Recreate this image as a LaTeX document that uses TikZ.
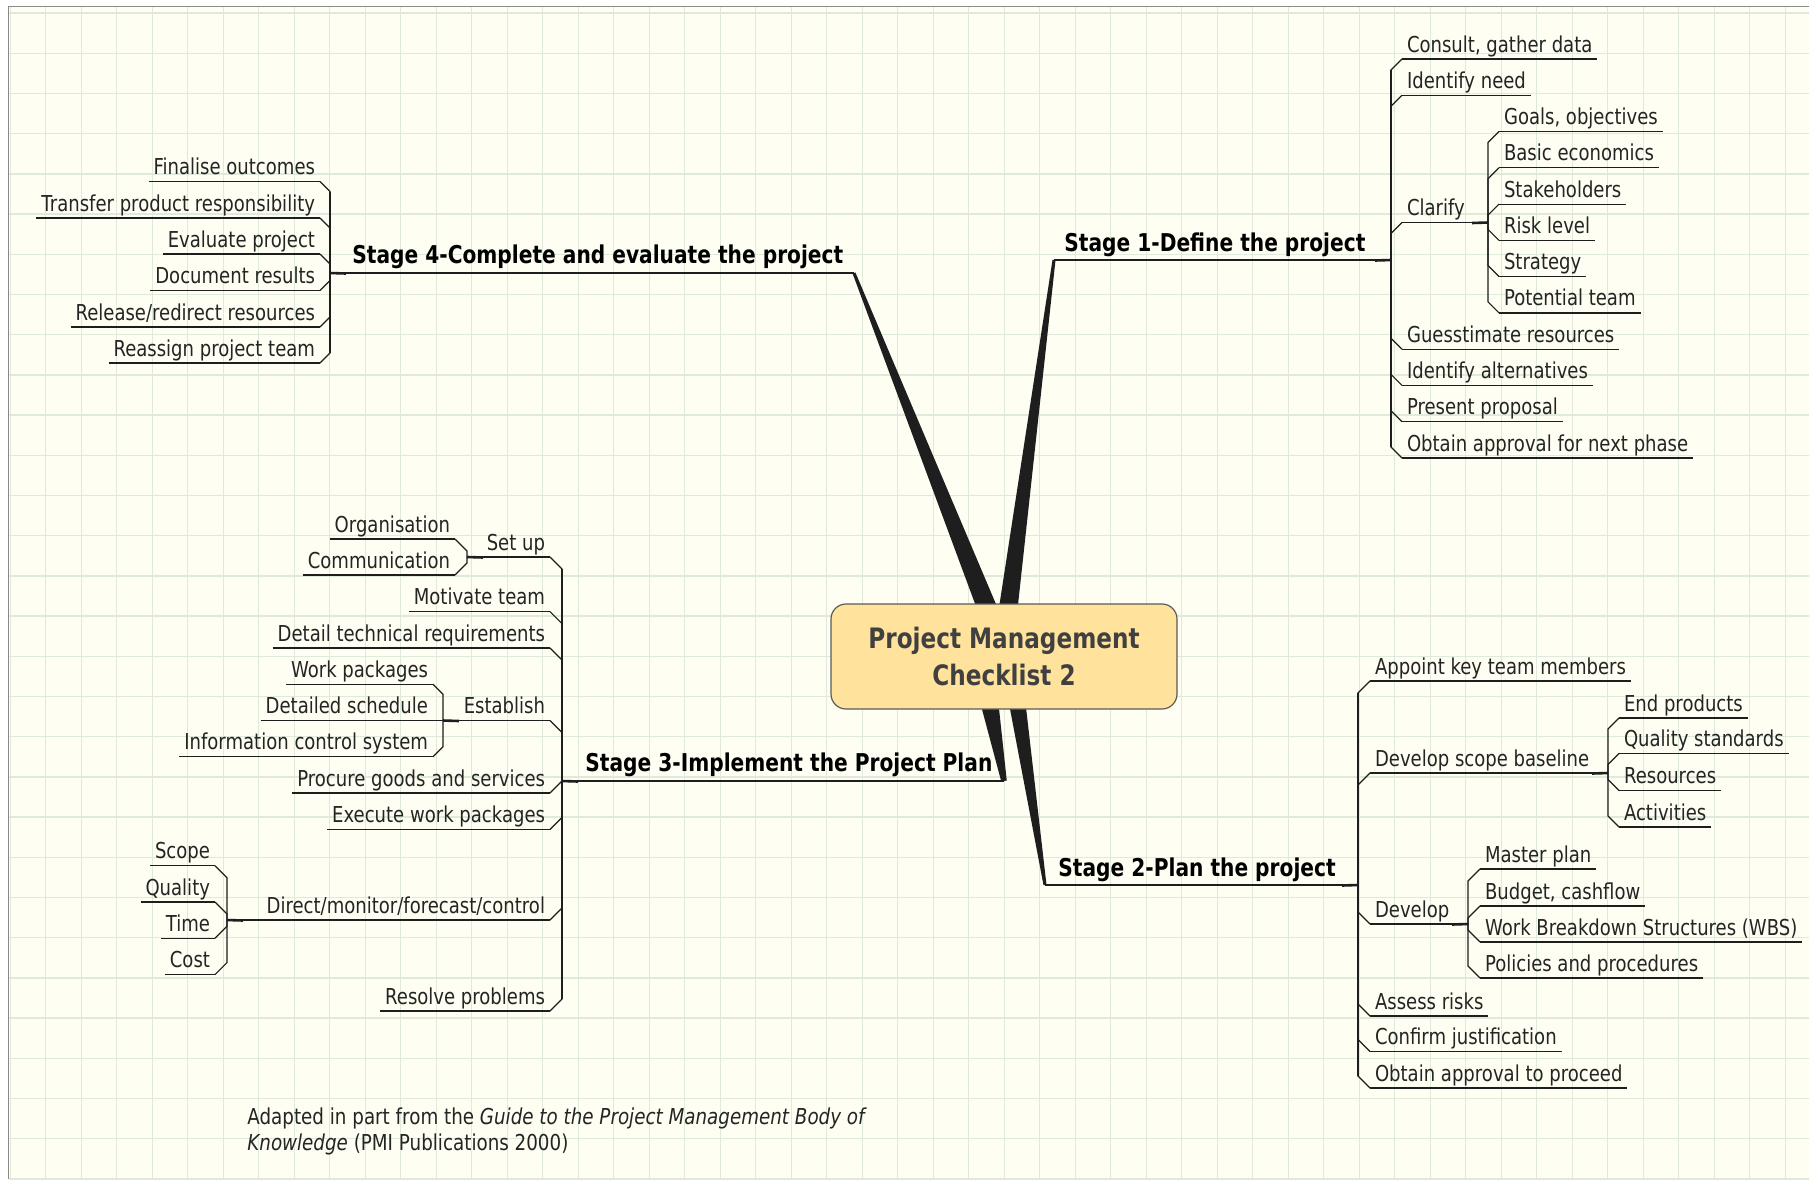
\documentclass[tikz,border=0pt]{standalone}
\usepackage{graphicx}
\usepackage{fontspec}
\setmainfont{DejaVu Sans}[BoldFont={DejaVu Sans Bold},ItalicFont={DejaVu Sans Oblique}]
\usetikzlibrary{calc}
\definecolor{bg}{HTML}{FEFEF2}
\definecolor{gridc}{HTML}{E0EADB}
\definecolor{framec}{HTML}{8A8A8A}
\definecolor{ink}{HTML}{1E1E1E}
\definecolor{txt}{HTML}{242424}
\definecolor{ctxt}{HTML}{404040}
\definecolor{cfill}{HTML}{FFE29C}
\definecolor{cbord}{HTML}{5A5A5A}
\newcommand\sx[1]{\scalebox{0.93}[1.13]{#1}}
\newcommand\fx[1]{\scalebox{0.943}[1.13]{#1}}
\newcommand\leaffont{\fontsize{9.7}{11.6}\selectfont}
\newcommand\stagefont{\bfseries\fontsize{10.85}{13}\selectfont}
\newcommand\centerfont{\bfseries\fontsize{12.45}{18.5}\selectfont}
\newcommand\rleaf[4]{\node[leaf,anchor=south west] (#1) at (#2,#3) {\sx{#4}};\draw[ln] (#1.south west) -- (#1.south east);}
\newcommand\lleaf[4]{\node[leaf,anchor=south east] (#1) at (#2,#3) {\sx{#4}};\draw[ln] (#1.south west) -- (#1.south east);}
\newcommand\conn[3]{\draw[ln] (#1) -- ($(#1 |- #2)+(0,#3)$) -- (#2);}
\newcommand\tapr[4]{\fill[ink] ($(#1)!#3!90:(#2)$) -- ($(#2)!#4!-90:(#1)$) -- ($(#2)!#4!90:(#1)$) -- ($(#1)!#3!-90:(#2)$) -- cycle;}
\begin{document}
\begin{tikzpicture}[x=0.5pt,y=-0.5pt,
  leaf/.style={font=\leaffont, text=txt, inner xsep=2.5pt, inner ysep=3.5pt, text depth=0pt, outer sep=0pt},
  ln/.style={draw=ink, line width=0.6pt},
  trunkln/.style={draw=ink, line width=1pt},
  jstub/.style={draw=ink, line width=1.3pt},
  sline/.style={draw=ink, line width=0.9pt},
  stagelbl/.style={font=\stagefont, text=black, inner sep=0pt, anchor=base west},
  foot/.style={font=\leaffont, text=txt, inner sep=0pt, anchor=base west},
  gridln/.style={draw=gridc, line width=0.7pt}]
\useasboundingbox (0,0) rectangle (1809,1179);
\fill[white] (0,0) rectangle (1809,1179);
\fill[bg] (8.5,6.5) rectangle (1809,1179);
\foreach \i in {0,...,50} \draw[gridln] ({10.2+35.5*\i},6.5) -- ({10.2+35.5*\i},1179);
\foreach \j in {0,...,29} \draw[gridln] (8.5,{13+40.2*\j}) -- (1809,{13+40.2*\j});
\draw[draw=framec, line width=0.9pt] (8.5,1179) -- (8.5,6.5) -- (1809,6.5);

% junction and tip coordinates
\coordinate (s1j) at (1391,260); \coordinate (s1t) at (1054,260);
\coordinate (s4j) at (330,273);  \coordinate (s4t) at (854,273);
\coordinate (s3j) at (562,781);  \coordinate (s3t) at (1004,781);
\coordinate (s2j) at (1358,885); \coordinate (s2t) at (1045,885);
\coordinate (k1) at (1007,618); \coordinate (k4) at (991,618);
\coordinate (k2) at (1016,695); \coordinate (k3) at (988,695);

% tapered main connectors
\tapr{k1}{s1t}{4.75pt}{0.75pt}
\tapr{k4}{s4t}{5pt}{0.75pt}
\tapr{k2}{s2t}{4.25pt}{0.75pt}
\tapr{k3}{s3t}{4.75pt}{1.4pt}

% central topic
\node[draw=cbord, line width=0.6pt, fill=cfill, rounded corners=7.5pt, minimum width=173pt, minimum height=52.5pt, align=center, font=\centerfont, text=ctxt, inner sep=0pt] (c) at (1004,656.5) {\sx{Project Management}\\\sx{Checklist 2}};

% stage underlines and labels
\draw[sline] (s1t) -- (s1j);
\draw[sline] (s4t) -- (s4j);
\draw[sline] (s3t) -- (s3j);
\draw[sline] (s2t) -- (s2j);
\node[stagelbl] (st1) at (1064,251) {\sx{Stage 1-Define the project}};
\node[stagelbl] (st4) at (352,263) {\sx{Stage 4-Complete and evaluate the project}};
\node[stagelbl] (st3) at (585,771) {\sx{Stage 3-Implement the Project Plan}};
\node[stagelbl] (st2) at (1058,876) {\sx{Stage 2-Plan the project}};

% ---------- Stage 1 ----------
\rleaf{a1}{1402}{59}{Consult, gather data}
\rleaf{a2}{1402}{95.3}{Identify need}
\rleaf{a3}{1402}{222.5}{Clarify}
\rleaf{a4}{1402}{349.2}{Guesstimate resources}
\rleaf{a5}{1402}{385.4}{Identify alternatives}
\rleaf{a6}{1402}{421.7}{Present proposal}
\rleaf{a7}{1402}{458}{Obtain approval for next phase}
\draw[trunkln] ($(s1j |- a1.south west)+(0,11)$) -- ($(s1j |- a7.south west)+(0,-11)$);
\conn{s1j}{a1.south west}{11}
\conn{s1j}{a2.south west}{11}
\conn{s1j}{a3.south west}{11}
\conn{s1j}{a4.south west}{-11}
\conn{s1j}{a5.south west}{-11}
\conn{s1j}{a6.south west}{-11}
\conn{s1j}{a7.south west}{-11}
\coordinate (a3j) at (1488,222.5);
\draw[ln] (a3.south east) -- (a3j);
\rleaf{a31}{1499}{131.5}{Goals, objectives}
\rleaf{a32}{1499}{167.8}{Basic economics}
\rleaf{a33}{1499}{204.1}{Stakeholders}
\rleaf{a34}{1499}{240.4}{Risk level}
\rleaf{a35}{1499}{276.6}{Strategy}
\rleaf{a36}{1499}{312.9}{Potential team}
\conn{a3j}{a31.south west}{11}
\conn{a3j}{a32.south west}{11}
\conn{a3j}{a33.south west}{11}
\conn{a3j}{a34.south west}{-11}
\conn{a3j}{a35.south west}{-11}
\conn{a3j}{a36.south west}{-11}

% ---------- Stage 4 ----------
\lleaf{e1}{320}{181.5}{Finalise outcomes}
\lleaf{e2}{320}{218}{Transfer product responsibility}
\lleaf{e3}{320}{254}{Evaluate project}
\lleaf{e4}{320}{290.5}{Document results}
\lleaf{e5}{320}{327}{Release/redirect resources}
\lleaf{e6}{320}{363}{Reassign project team}
\draw[trunkln] ($(s4j |- e1.south east)+(0,10)$) -- ($(s4j |- e6.south east)+(0,-10)$);
\conn{s4j}{e1.south east}{10}
\conn{s4j}{e2.south east}{10}
\conn{s4j}{e3.south east}{10}
\conn{s4j}{e4.south east}{-10}
\conn{s4j}{e5.south east}{-10}
\conn{s4j}{e6.south east}{-10}

% ---------- Stage 3 ----------
\lleaf{b1}{550}{557}{Set up}
\lleaf{b2}{550}{611.6}{Motivate team}
\lleaf{b3}{550}{648}{Detail technical requirements}
\lleaf{b4}{550}{720.5}{Establish}
\lleaf{b5}{550}{793}{Procure goods and services}
\lleaf{b6}{550}{829.5}{Execute work packages}
\lleaf{b7}{550}{920}{Direct/monitor/forecast/control}
\lleaf{b8}{550}{1011}{Resolve problems}
\draw[trunkln] ($(s3j |- b1.south east)+(0,12)$) -- ($(s3j |- b8.south east)+(0,-12)$);
\conn{s3j}{b1.south east}{12}
\conn{s3j}{b2.south east}{12}
\conn{s3j}{b3.south east}{12}
\conn{s3j}{b4.south east}{12}
\conn{s3j}{b5.south east}{-12}
\conn{s3j}{b6.south east}{-12}
\conn{s3j}{b7.south east}{-12}
\conn{s3j}{b8.south east}{-12}
% Set up
\coordinate (suj) at (467,557);
\draw[ln] (b1.south west) -- (suj);
\lleaf{b11}{455}{539}{Organisation}
\lleaf{b12}{455}{575}{Communication}
\conn{suj}{b11.south east}{12}
\conn{suj}{b12.south east}{-12}
% Establish
\coordinate (esj) at (443,720.5);
\draw[ln] (b4.south west) -- (esj);
\lleaf{b41}{433}{684.2}{Work packages}
\lleaf{b42}{433}{720.5}{Detailed schedule}
\lleaf{b43}{433}{756.8}{Information control system}
\conn{esj}{b41.south east}{10}
\draw[ln] (esj) -- (b42.south east);
\conn{esj}{b43.south east}{-10}
% Direct
\coordinate (dij) at (227,920);
\draw[ln] (b7.south west) -- (dij);
\lleaf{b71}{215}{865.7}{Scope}
\lleaf{b72}{215}{902}{Quality}
\lleaf{b73}{215}{938.3}{Time}
\lleaf{b74}{215}{974.6}{Cost}
\conn{dij}{b71.south east}{12}
\conn{dij}{b72.south east}{12}
\conn{dij}{b73.south east}{-12}
\conn{dij}{b74.south east}{-12}

% ---------- Stage 2 ----------
\rleaf{d1}{1370}{681}{Appoint key team members}
\rleaf{d2}{1370}{773}{Develop scope baseline}
\rleaf{d3}{1370}{924}{Develop}
\rleaf{d4}{1370}{1016}{Assess risks}
\rleaf{d5}{1370}{1051.5}{Confirm justification}
\rleaf{d6}{1370}{1088}{Obtain approval to proceed}
\draw[trunkln] ($(s2j |- d1.south west)+(0,12)$) -- ($(s2j |- d6.south west)+(0,-12)$);
\conn{s2j}{d1.south west}{12}
\conn{s2j}{d2.south west}{12}
\conn{s2j}{d3.south west}{-12}
\conn{s2j}{d4.south west}{-12}
\conn{s2j}{d5.south west}{-12}
\conn{s2j}{d6.south west}{-12}
% Develop scope baseline
\coordinate (dsj) at (1608,773);
\draw[ln] (d2.south east) -- (dsj);
\rleaf{d21}{1619}{718}{End products}
\rleaf{d22}{1619}{753.5}{Quality standards}
\rleaf{d23}{1619}{790.5}{Resources}
\rleaf{d24}{1619}{827}{Activities}
\conn{dsj}{d21.south west}{11}
\conn{dsj}{d22.south west}{11}
\conn{dsj}{d23.south west}{-11}
\conn{dsj}{d24.south west}{-11}
% Develop
\coordinate (dvj) at (1468,924);
\draw[ln] (d3.south east) -- (dvj);
\rleaf{d31}{1480}{869}{Master plan}
\rleaf{d32}{1480}{906}{Budget, cashflow}
\rleaf{d33}{1480}{942}{Work Breakdown Structures (WBS)}
\rleaf{d34}{1480}{978}{Policies and procedures}
\conn{dvj}{d31.south west}{12}
\conn{dvj}{d32.south west}{12}
\conn{dvj}{d33.south west}{-12}
\conn{dvj}{d34.south west}{-12}

% junction stubs
\draw[jstub] (s1j) -- ++(-16,0.5);
\draw[jstub] (a3j) -- ++(-16,0.5);
\draw[jstub] (s4j) -- ++(16,0.5);
\draw[jstub] (s3j) -- ++(16,0.5);
\draw[jstub] (suj) -- ++(16,0.5);
\draw[jstub] (esj) -- ++(16,0.5);
\draw[jstub] (dij) -- ++(16,0.5);
\draw[jstub] (s2j) -- ++(-16,0.5);
\draw[jstub] (dsj) -- ++(-16,0.5);
\draw[jstub] (dvj) -- ++(-16,0.5);

% footnote
\node[foot] (f1) at (247,1124) {\fx{Adapted in part from the \textit{Guide to the Project Management Body of}}};
\node[foot] (f2) at (247,1150) {\fx{\textit{Knowledge} (PMI Publications 2000)}};
\end{tikzpicture}
\end{document}
